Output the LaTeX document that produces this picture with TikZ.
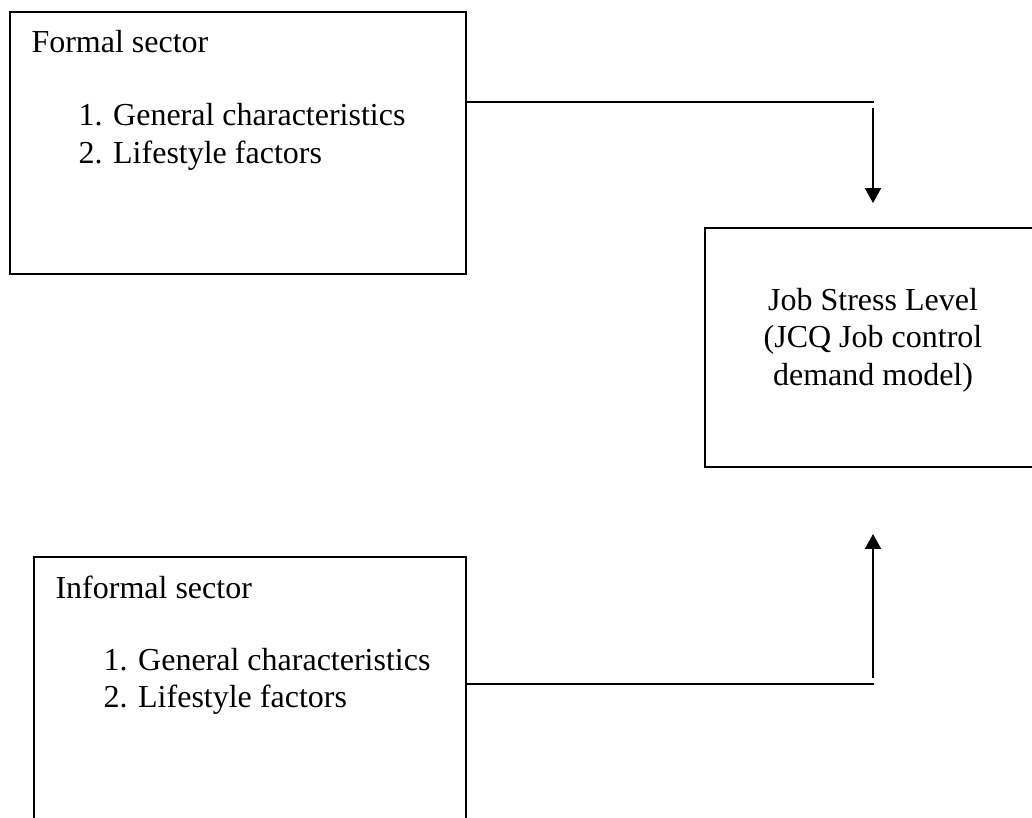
\documentclass[tikz,border=0pt]{standalone}
\usepackage{fontspec}
\setmainfont{Liberation Serif}
\usetikzlibrary{arrows.meta}
\begin{document}
\begin{tikzpicture}[x=0.375pt,y=-0.375pt,
  box/.style={draw=black,line width=0.75pt,rectangle,inner sep=0pt},
  txt/.style={inner sep=0pt,anchor=base west,font=\fontsize{12pt}{14.25pt}\selectfont},
  ctxt/.style={inner sep=0pt,anchor=base,font=\fontsize{12pt}{14.25pt}\selectfont},
  conn/.style={line width=0.75pt},
  arr/.style={line width=0.75pt,-{Triangle[length=5.6pt,width=6pt]}}]
\clip (0,0) rectangle (1032,817);
\fill[white] (0,0) rectangle (1032,817);
% boxes
\node[box,minimum width=171pt,minimum height=98.25pt] (formal) at (238,143) {};
\node[box,minimum width=162pt,minimum height=113.6pt] (informal) at (250,708.5) {};
\node[box,minimum width=126pt,minimum height=89.6pt] (job) at (873,347.5) {};
% texts
\node[txt] (f0) at (31,52) {Formal sector};
\node[txt] (f1) at (78,125) {1. General characteristics};
\node[txt] (f2) at (78,163) {2. Lifestyle factors};
\node[txt] (i0) at (55,598) {Informal sector};
\node[txt] (i1) at (103,670) {1. General characteristics};
\node[txt] (i2) at (103,707) {2. Lifestyle factors};
\node[ctxt] (j1) at (873,310) {Job Stress Level};
\node[ctxt] (j2) at (873,347) {(JCQ Job control};
\node[ctxt] (j3) at (873,385) {demand model)};
% connectors
\coordinate (c1) at (874,102);
\coordinate (c1s) at (873,108);
\coordinate (c1t) at (873,203);
\draw[conn] (formal.east |- c1) -- (c1);
\draw[arr] (c1s) -- (c1t);
\coordinate (c2) at (874,684);
\coordinate (c2s) at (873,678);
\coordinate (c2t) at (873,534);
\draw[conn] (informal.east |- c2) -- (c2);
\draw[arr] (c2s) -- (c2t);
\end{tikzpicture}
\end{document}
